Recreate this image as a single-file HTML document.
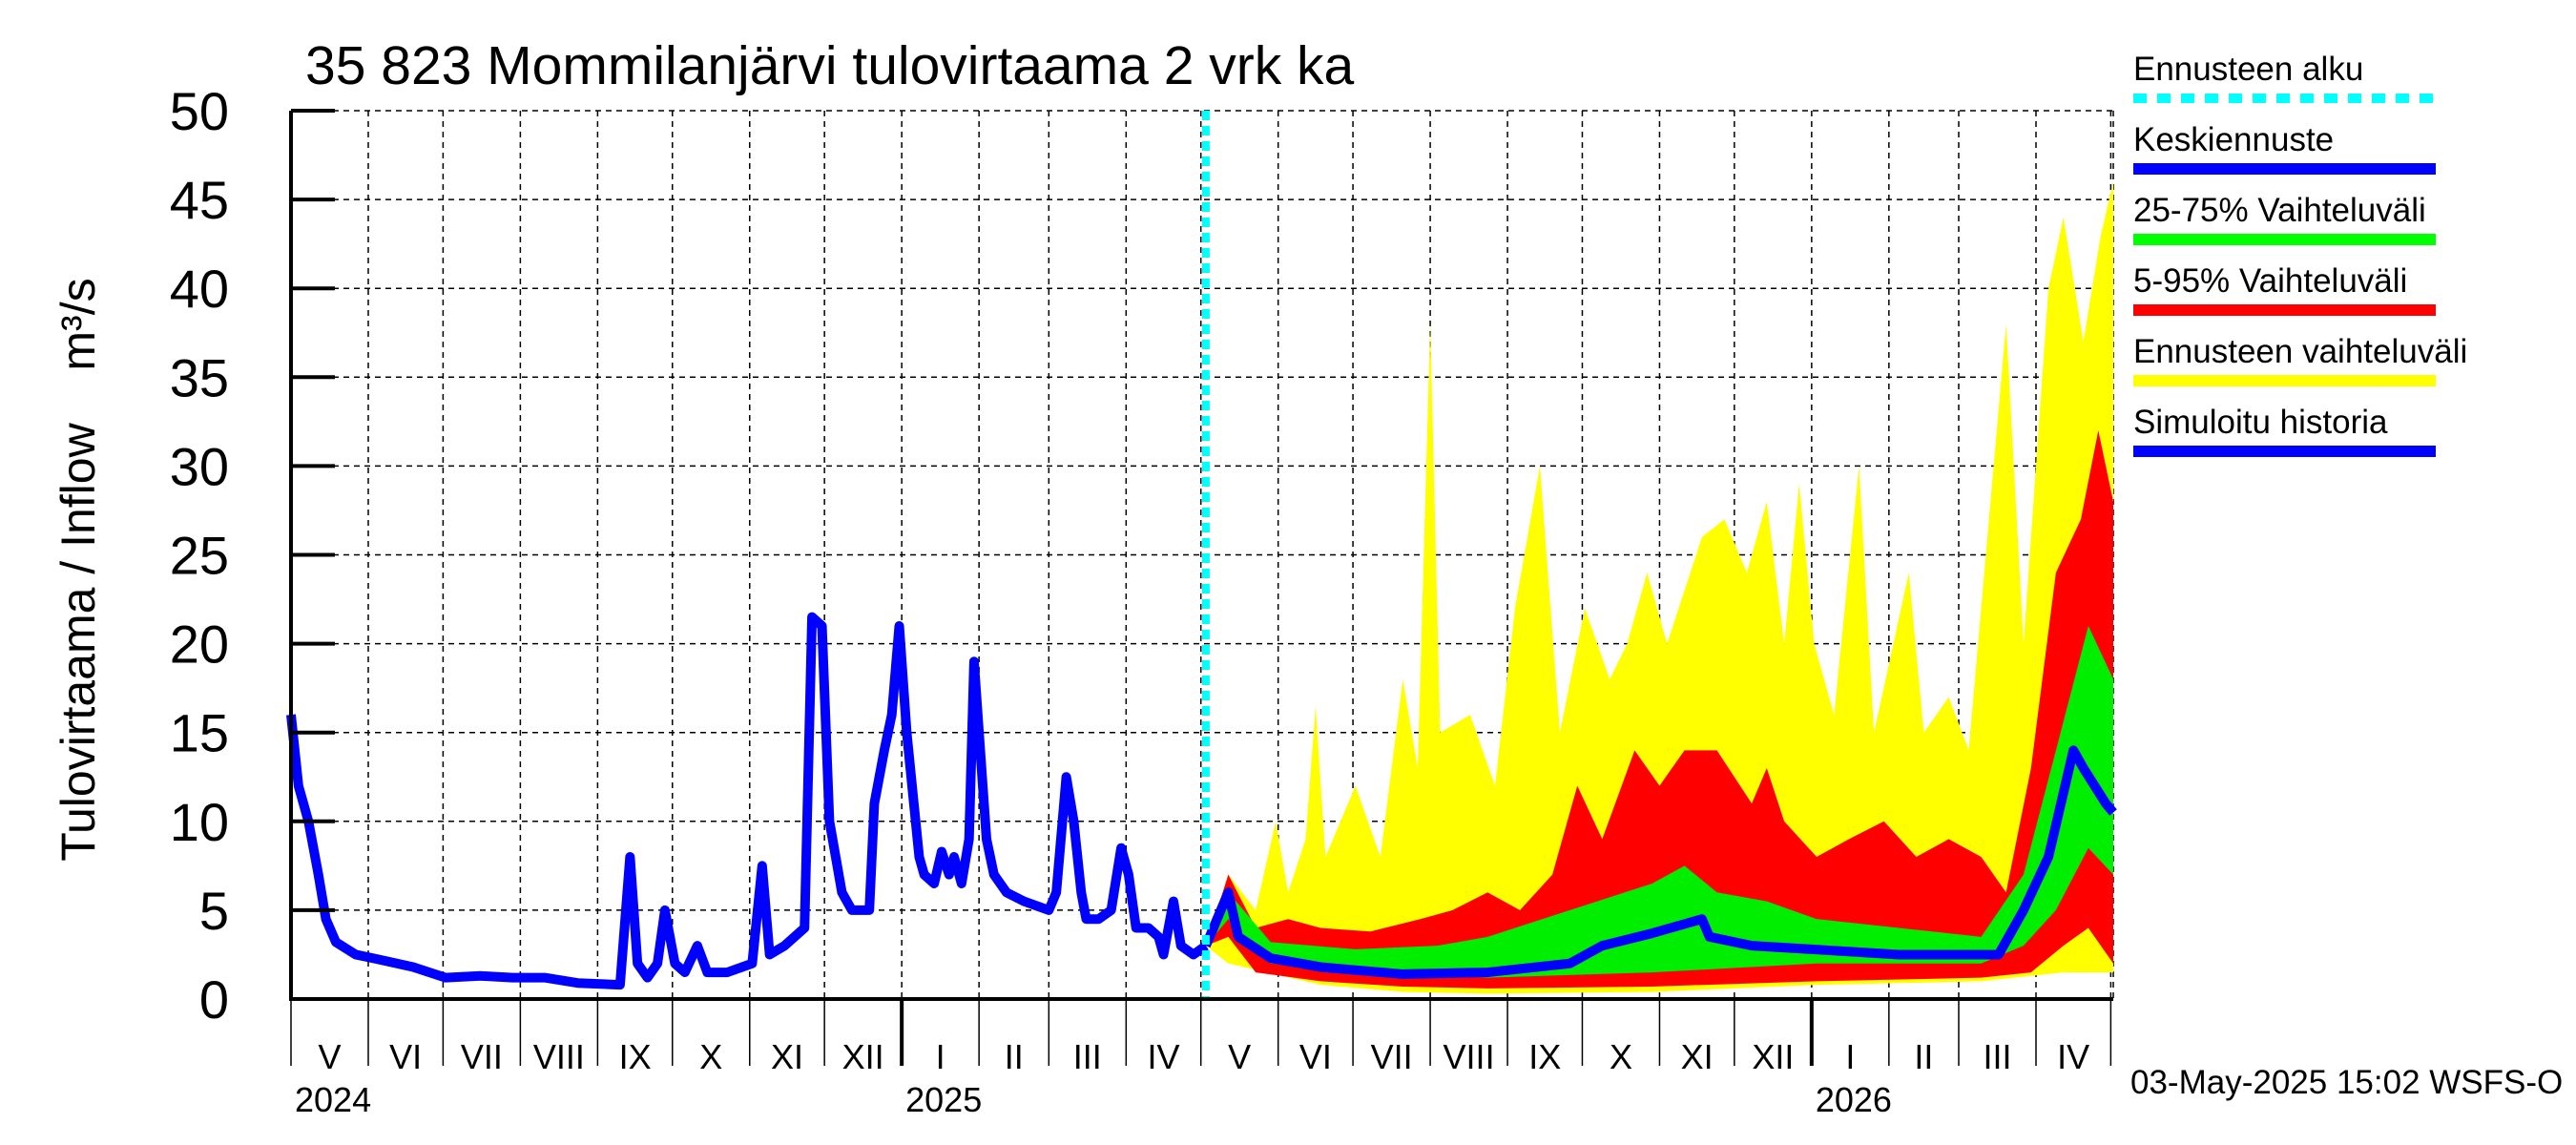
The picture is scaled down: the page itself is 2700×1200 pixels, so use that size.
<!DOCTYPE html>
<html><head><meta charset="utf-8">
<style>
html,body{margin:0;padding:0;background:#fff;}
svg{display:block;font-family:"Liberation Sans",sans-serif;}
</style></head>
<body>
<svg id="chart" width="2700" height="1200" viewBox="0 0 2700 1200" xmlns="http://www.w3.org/2000/svg">
<rect width="2700" height="1200" fill="#fff"/>
<text x="320" y="88" font-size="57">35 823 Mommilanjärvi tulovirtaama 2 vrk ka</text>
<text transform="translate(99,673) rotate(-90)" text-anchor="middle" font-size="50">Tulovirtaama / Inflow</text>
<text transform="translate(99,340) rotate(-90)" text-anchor="middle" font-size="50">m³/s</text>
<g id="grid"></g>
<g id="series"></g>
<g id="axes"></g>
<g id="legend"></g>
<text x="2233" y="1146" font-size="35">03-May-2025 15:02 WSFS-O</text>
</svg>
<script>
// Days since 2024-05-01, values in m3/s
const historyDays = [0,3,7,11,14,18,26,36,49,62,76,89,102,115,132,136,139,143,147,150,154,158,163,167,175,185,189,192,198,206,209,213,216,221,225,232,234,238,241,244,247,252,254,258,261,264,266,269,272,274,276,279,282,287,294,304,307,311,314,317,319,324,329,333,336,339,344,348,350,354,357,362,367];
const historyVals = [16,12,10,7,4.5,3.2,2.5,2.2,1.8,1.2,1.3,1.2,1.2,0.9,0.8,8,2,1.2,2,5,2,1.5,3,1.5,1.5,2,7.5,2.5,3,4,21.5,21,10,6,5,5,11,14,16,21,15,8,7,6.5,8.3,7,8,6.5,9,19,15,9,7,6,5.5,5,6,12.5,10,6,4.5,4.5,5,8.5,7,4,4,3.5,2.5,5.5,3,2.5,3];
const medianDays = [367,376,380,393,413,446,480,513,526,546,566,569,586,610,645,685,695,705,715,719,728,731];
const medianVals = [3,6,3.5,2.3,1.8,1.4,1.5,2,3,3.7,4.5,3.5,3,2.8,2.5,2.5,5,8,14,13,11,10.5];
const p75Days = [367,376,393,427,460,480,513,546,559,572,592,612,645,678,695,708,721,731];
const p75Vals = [3,6,3.2,2.8,3,3.5,5,6.5,7.5,6,5.5,4.5,4,3.5,7,14,21,18];
const p25Days = [367,376,393,427,480,546,612,678,695,708,721,731];
const p25Vals = [3,4.5,2,1.5,1.2,1.5,2,2,3,5,8.5,7];
const p95Days = [367,376,387,400,413,433,453,466,480,493,506,516,526,539,549,559,572,586,592,599,612,625,639,652,665,678,688,698,708,718,725,731];
const p95Vals = [3,7,4,4.5,4,3.8,4.5,5,6,5,7,12,9,14,12,14,14,11,13,10,8,9,10,8,9,8,6,13,24,27,32,28];
const p05Days = [367,376,387,413,446,480,546,612,678,698,711,721,731];
const p05Vals = [3,3.5,1.5,1,0.7,0.6,0.7,1,1.2,1.5,3,4,2];
const maxDays = [367,376,387,395,400,407,411,415,427,437,446,452,457,461,473,483,491,501,509,519,529,536,544,552,566,575,584,592,599,605,611,619,629,635,649,655,665,673,688,695,705,711,719,726,731];
const maxVals = [3,7,5,10,6,9,16.5,8,12,8,18,13,38,15,16,12,22,30,15,22,18,20,24,20,26,27,24,28,20,29,20,16,30,15,24,15,17,14,38,20,40,44,37,43,46];
const minDays = [367,376,413,446,480,546,612,678,711,731];
const minVals = [3,2,0.8,0.4,0.3,0.4,0.8,1,1.5,1.5];
const monthStartDays = [0,31,61,92,123,153,184,214,245,276,304,335,365,396,426,457,488,518,549,579,610,641,669,700,730];
const monthLabels = ["V","VI","VII","VIII","IX","X","XI","XII","I","II","III","IV","V","VI","VII","VIII","IX","X","XI","XII","I","II","III","IV"];
const yearLabels = ["2024","2025","2026"];
const yearDays = [0,245,610];
const yTicks = [0,5,10,15,20,25,30,35,40,45,50];
const forecastStartDay = 367;

const NS="http://www.w3.org/2000/svg";
const X0=305,X1=2215,Y0=1047,Y1=116,DMAX=731,VMAX=50;
function xS(d){return X0+d*(X1-X0)/DMAX;}
function yS(v){return Y0-v*(Y0-Y1)/VMAX;}
function mk(tag,parent,attrs){const e=document.createElementNS(NS,tag);for(const k in attrs)e.setAttribute(k,attrs[k]);parent.appendChild(e);return e;}
const grid=document.getElementById('grid'),series=document.getElementById('series'),axes=document.getElementById('axes'),legend=document.getElementById('legend');

yTicks.forEach(v=>{ if(v===0)return;
  const l=mk('line',grid,{x1:X0,x2:X1,y1:yS(v),y2:yS(v),stroke:'#000','stroke-width':1.5,'stroke-dasharray':'6,5'});
  
  
});
monthStartDays.forEach(d=>{ if(d===0)return;
  const l=mk('line',grid,{x1:xS(d),x2:xS(d),y1:Y1,y2:Y0,stroke:'#000','stroke-width':1.5,'stroke-dasharray':'6,5'});
  
  
});
const rb=mk('line',grid,{x1:X1,x2:X1,y1:Y1,y2:Y0,stroke:'#000','stroke-width':1.5,'stroke-dasharray':'6,5'});



function band(uD,uV,lD,lV,color,name){
  let p=uD.map((d,i)=>xS(d)+','+yS(uV[i]));
  for(let i=lD.length-1;i>=0;i--)p.push(xS(lD[i])+','+yS(lV[i]));
  const e=mk('polygon',series,{points:p.join(' '),fill:color});
  
  
}
band(maxDays,maxVals,minDays,minVals,'#ffff00','forecast-range-band');
band(p95Days,p95Vals,p05Days,p05Vals,'#ff0000','p5-95-band');
band(p75Days,p75Vals,p25Days,p25Vals,'#00ee00','p25-75-band');
function line(D,V,name){
  const e=mk('polyline',series,{points:D.map((d,i)=>xS(d)+','+yS(V[i])).join(' '),fill:'none',stroke:'#0000ff','stroke-width':10,'stroke-linejoin':'round'});
  
  
}
line(historyDays,historyVals,'simulated-history-line');
line(medianDays,medianVals,'median-forecast-line');
const fs=mk('line',series,{x1:xS(forecastStartDay),x2:xS(forecastStartDay),y1:Y1,y2:Y0,stroke:'#00ffff','stroke-width':8,'stroke-dasharray':'10,6'});



const ax=mk('path',axes,{d:`M${X0},${Y1} L${X0},${Y0} L${X1},${Y0}`,fill:'none',stroke:'#000','stroke-width':4});


yTicks.forEach(v=>{
  const t=mk('line',axes,{x1:X0,x2:X0+46,y1:yS(v),y2:yS(v),stroke:'#000','stroke-width':4});
  
  
  const l=mk('text',axes,{x:240,y:yS(v)+20,'text-anchor':'end','font-size':56});
  l.textContent=v;
  
  
});
monthStartDays.forEach(d=>{
  const isYear=yearDays.indexOf(d)>0;
  const t=mk('line',axes,{x1:xS(d),x2:xS(d),y1:Y0,y2:1117,stroke:'#000','stroke-width':isYear?4:1.5});
  
  
});
monthLabels.forEach((m,i)=>{
  const c=(xS(monthStartDays[i])+xS(monthStartDays[i+1]))/2;
  const l=mk('text',axes,{x:c,y:1120,'text-anchor':'middle','font-size':36});
  l.textContent=m;
  
  
});
yearLabels.forEach((y,i)=>{
  const l=mk('text',axes,{x:xS(yearDays[i])+4,y:1165,'font-size':36});
  l.textContent=y;
  
  
});

const legNames=["Ennusteen alku","Keskiennuste","25-75% Vaihteluväli","5-95% Vaihteluväli","Ennusteen vaihteluväli","Simuloitu historia"];
const legColors=["#00ffff","#0000ff","#00ff00","#ff0000","#ffff00","#0000ff"];
legNames.forEach((n,i)=>{
  const y=84+i*74;
  const t=mk('text',legend,{x:2236,y:y,'font-size':35});
  t.textContent=n;
  
  
  const a={x1:2236,x2:2553,y1:y+19,y2:y+19,stroke:legColors[i],'stroke-width':i===0?10:12};
  if(i===0)a['stroke-dasharray']='14,11';
  const s=mk('line',legend,a);
  
  
});
</script>
</body></html>
